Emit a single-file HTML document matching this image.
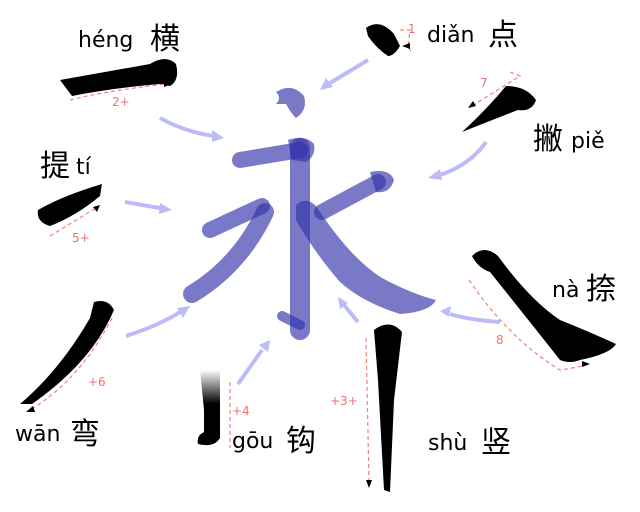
<!DOCTYPE html>
<html><head><meta charset="utf-8"><style>
html,body{margin:0;padding:0;background:#fff;}
svg{display:block}
text{font-family:"DejaVu Sans","Liberation Sans","Noto Sans CJK SC",sans-serif;fill:#000}
.py{font-size:22px}
.cj{font-size:30px;font-family:"Noto Sans CJK SC","WenQuanYi Zen Hei",sans-serif}
.r{font-size:12px;fill:#f07070}
.d{stroke:#f08080;stroke-width:1.2;stroke-dasharray:4,3;fill:none}
.a{stroke:#bbbbf8;stroke-width:4;fill:none}
.ah{fill:#bbbbf8}
.bs{stroke:#3333aa;stroke-opacity:.66;fill:none;stroke-linecap:round;stroke-linejoin:round}
.b{fill:#3333aa;opacity:.66}
</style></head><body>
<svg width="640" height="512" viewBox="0 0 640 512" xmlns="http://www.w3.org/2000/svg">
<defs><linearGradient id="g" x1="0" y1="0" x2="0" y2="1"><stop offset="0" stop-color="#fff"/><stop offset=".45" stop-color="#000"/></linearGradient></defs>
<!-- blue character -->
<path class="b" d="M276,92 Q292,82 304,96 Q308,110 296,118 Q290,112 286,104 L276,104 Q282,98 276,92Z"/>
<path class="bs" stroke-width="16" d="M240,160 L300,150"/>
<path class="bs" stroke-width="20" d="M300,148 L300,330"/>
<path class="bs" stroke-width="10" d="M300,325 L282,316"/>
<path class="b" d="M288,140 Q305,134 314,144 Q316,156 306,162 L292,160Z"/>
<path class="bs" stroke-width="16" d="M210,230 L262,206"/>
<path class="bs" stroke-width="18" d="M265,212 Q240,265 192,294"/>
<path class="bs" stroke-width="16" d="M322,212 L378,182"/>
<path class="b" d="M370,172 Q390,168 394,180 Q390,194 376,192Z"/>
<path class="b" d="M296,205 Q306,196 316,206 Q350,258 382,278 Q412,294 436,300 Q430,312 400,314 Q362,302 340,282 Q314,252 296,220Z"/>
<!-- black strokes -->
<path d="M60,80 L150,64 Q166,54 176,64 Q180,80 170,86 L160,84 Q112,88 72,96Z"/>
<path d="M366,28 Q380,18 394,34 L400,46 Q394,56 388,56 Q376,48 368,36Z"/>
<path d="M462,132 Q488,108 506,86 Q526,86 536,100 Q532,112 518,110 Q492,120 462,132Z"/>
<path d="M38,210 Q62,196 102,184 L100,196 Q76,216 50,226 Q36,222 38,210Z"/>
<path d="M20,404 Q60,370 90,318 L94,302 Q108,298 114,310 Q92,362 32,404Z"/>
<path d="M200,370 L220,370 L220,438 Q214,448 198,444 Q196,436 204,432 L204,410 Z" fill="url(#g)"/>
<path d="M374,330 Q390,318 402,332 L394,400 L390,492 L384,490 L378,380Z"/>
<path d="M472,256 Q484,244 498,256 Q530,300 560,320 Q590,332 616,344 Q610,354 580,360 Q570,364 560,360 Q530,322 490,272 Q478,268 472,256Z"/>
<!-- red dashed guides -->
<path class="d" d="M70,100 Q100,92 165,84"/><path d="M172,84 l-8,-3 l0,6z"/>
<path class="d" d="M400,30 L410,30 L408,47 L412,52"/><path d="M402,46 l8,-3 l0,6z"/>
<path class="d" d="M510,72 L520,76 L472,106"/><path d="M468,108 l5,-7 l3,5z"/>
<path class="d" d="M50,236 L96,208"/><path d="M100,205 l-7,2 l4,5z"/>
<path class="d" d="M112,318 Q80,380 30,410"/><path d="M26,412 l7,-6 l2,6z"/>
<path class="d" d="M230,382 L230,448"/>
<path class="d" d="M366,338 L369,482"/><path d="M369,488 l-3,-8 l6,0z"/>
<path class="d" d="M469,280 Q510,340 560,370 Q575,368 585,365"/><path d="M590,364 l-8,-3 l0,6z"/>
<text class="r" x="112" y="106">2+</text>
<text class="r" x="408" y="33">1</text>
<text class="r" x="480" y="87">7</text>
<text class="r" x="72" y="242">5+</text>
<text class="r" x="88" y="386">+6</text>
<text class="r" x="232" y="415">+4</text>
<text class="r" x="330" y="405">+3+</text>
<text class="r" x="496" y="344">8</text>
<!-- arrows -->
<path class="a" d="M160,118 Q185,132 214,136"/><path class="ah" d="M224,138 l-12,-8 l0,12z"/>
<path class="a" d="M368,60 L330,83"/><path class="ah" d="M320,90 l6,-12 l7,9z"/>
<path class="a" d="M486,142 Q470,165 440,175"/><path class="ah" d="M428,178 l12,-9 l2,11z"/>
<path class="a" d="M125,202 L160,208"/><path class="ah" d="M172,210 l-12,-7 l-1,11z"/>
<path class="a" d="M126,336 Q160,325 180,312"/><path class="ah" d="M190,306 l-13,2 l6,10z"/>
<path class="a" d="M238,384 L262,350"/><path class="ah" d="M270,340 l-11,5 l9,7z"/>
<path class="a" d="M358,322 L344,305"/><path class="ah" d="M338,297 l2,12 l8,-6z"/>
<path class="a" d="M500,322 Q470,320 450,314"/><path class="ah" d="M440,311 l11,-5 l-2,11z"/>
<!-- labels -->
<text class="py" x="78" y="47">héng</text><text class="cj" x="150" y="49">横</text>
<text class="py" x="427" y="42">diǎn</text><text class="cj" x="488" y="45">点</text>
<text class="cj" x="533" y="149">撇</text><text class="py" x="571" y="148">piě</text>
<text class="cj" x="40" y="176">提</text><text class="py" x="76" y="174">tí</text>
<text class="py" x="552" y="297">nà</text><text class="cj" x="586" y="299">捺</text>
<text class="py" x="15" y="441">wān</text><text class="cj" x="70" y="444">弯</text>
<text class="py" x="232" y="448">gōu</text><text class="cj" x="286" y="451">钩</text>
<text class="py" x="428" y="450">shù</text><text class="cj" x="481" y="452">竖</text>
</svg>
</body></html>
